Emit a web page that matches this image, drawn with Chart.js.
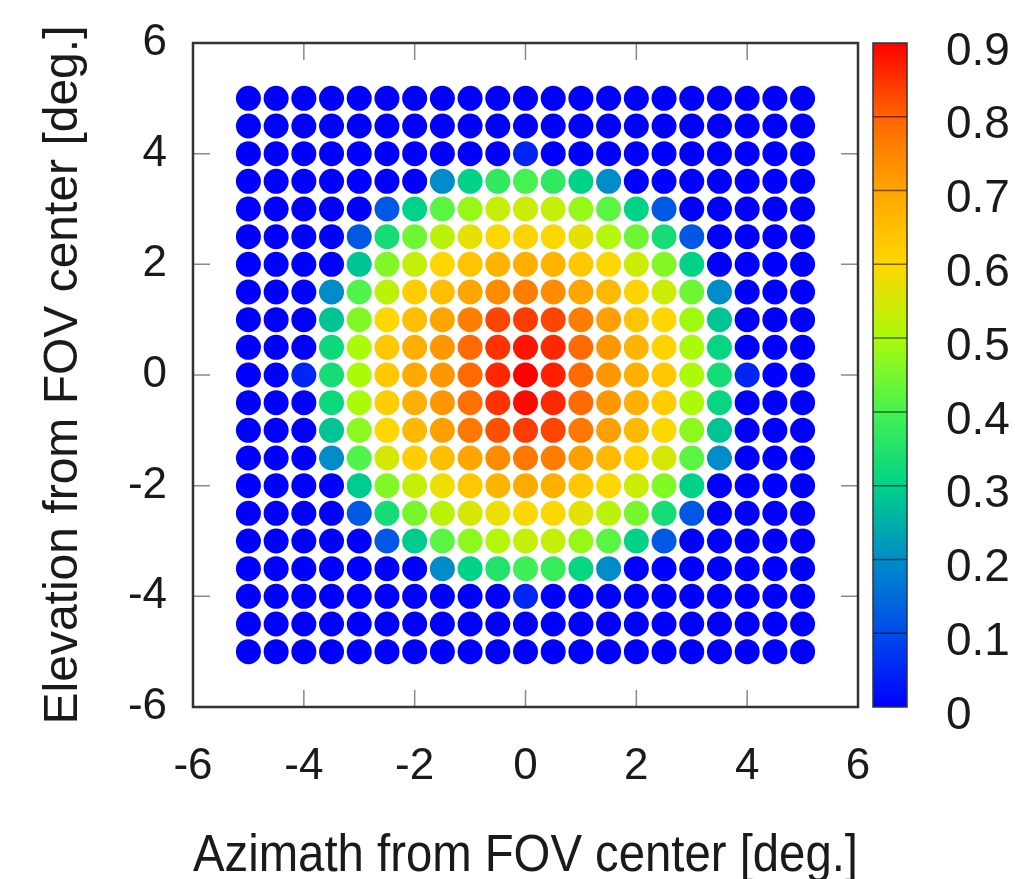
<!DOCTYPE html>
<html>
<head>
<meta charset="utf-8">
<script src="https://cdn.jsdelivr.net/npm/chart.js@4.4.0/dist/chart.umd.min.js"></script>
<style>
  html, body { margin: 0; padding: 0; background: #fff; }
  #wrap { width: 1015px; height: 879px; }
</style>
</head>
<body>
<div id="wrap"><canvas id="fov-chart"></canvas></div>
<script>
// Grid of sample directions (deg.)
const azimuth = [-5, -4.5, -4, -3.5, -3, -2.5, -2, -1.5, -1, -0.5, 0, 0.5, 1, 1.5, 2, 2.5, 3, 3.5, 4, 4.5, 5];
const elevation = [5, 4.5, 4, 3.5, 3, 2.5, 2, 1.5, 1, 0.5, 0, -0.5, -1, -1.5, -2, -2.5, -3, -3.5, -4, -4.5, -5];

// Axis / colour bar tick labels
const axisTicks = [-6, -4, -2, 0, 2, 4, 6];
const cbTicks = [0, 0.1, 0.2, 0.3, 0.4, 0.5, 0.6, 0.7, 0.8, 0.9];

// Response per grid point, one row per elevation (top row = +5 deg.)
const response = [
  [0, 0, 0, 0, 0, 0, 0, 0, 0, 0, 0, 0, 0, 0, 0, 0, 0, 0, 0, 0, 0],
  [0, 0, 0, 0, 0, 0, 0, 0, 0, 0, 0, 0, 0, 0, 0, 0, 0, 0, 0, 0, 0],
  [0, 0, 0, 0, 0, 0, 0, 0, 0, 0, 0.05, 0, 0, 0, 0, 0, 0, 0, 0, 0, 0],
  [0, 0, 0, 0, 0, 0, 0, 0.2, 0.3, 0.37, 0.4, 0.37, 0.3, 0.2, 0, 0, 0, 0, 0, 0, 0],
  [0, 0, 0, 0, 0, 0.12, 0.3, 0.42, 0.48, 0.53, 0.54, 0.53, 0.48, 0.42, 0.3, 0.12, 0, 0, 0, 0, 0],
  [0, 0, 0, 0, 0.12, 0.33, 0.44, 0.52, 0.57, 0.6, 0.61, 0.6, 0.57, 0.51, 0.44, 0.33, 0.12, 0, 0, 0, 0],
  [0, 0, 0, 0, 0.28, 0.46, 0.53, 0.6, 0.64, 0.67, 0.68, 0.67, 0.63, 0.6, 0.54, 0.46, 0.3, 0, 0, 0, 0],
  [0, 0, 0, 0.2, 0.41, 0.52, 0.62, 0.65, 0.7, 0.74, 0.76, 0.74, 0.7, 0.66, 0.61, 0.54, 0.44, 0.2, 0, 0, 0],
  [0, 0, 0, 0.28, 0.46, 0.6, 0.65, 0.7, 0.76, 0.83, 0.84, 0.83, 0.76, 0.71, 0.64, 0.6, 0.49, 0.28, 0, 0, 0],
  [0, 0, 0, 0.32, 0.5, 0.63, 0.68, 0.72, 0.79, 0.85, 0.88, 0.86, 0.79, 0.72, 0.67, 0.61, 0.5, 0.31, 0, 0, 0],
  [0, 0, 0.05, 0.33, 0.5, 0.63, 0.69, 0.72, 0.79, 0.86, 0.9, 0.87, 0.79, 0.72, 0.68, 0.63, 0.5, 0.33, 0.05, 0, 0],
  [0, 0, 0, 0.32, 0.5, 0.62, 0.68, 0.72, 0.78, 0.85, 0.89, 0.86, 0.79, 0.72, 0.68, 0.62, 0.5, 0.31, 0, 0, 0],
  [0, 0, 0, 0.28, 0.47, 0.6, 0.66, 0.71, 0.77, 0.82, 0.84, 0.83, 0.77, 0.71, 0.66, 0.6, 0.47, 0.28, 0, 0, 0],
  [0, 0, 0, 0.2, 0.41, 0.55, 0.62, 0.65, 0.7, 0.74, 0.77, 0.76, 0.71, 0.66, 0.61, 0.55, 0.42, 0.2, 0, 0, 0],
  [0, 0, 0, 0, 0.29, 0.46, 0.53, 0.58, 0.63, 0.67, 0.69, 0.68, 0.63, 0.6, 0.54, 0.46, 0.3, 0, 0, 0, 0],
  [0, 0, 0, 0, 0.12, 0.33, 0.45, 0.52, 0.55, 0.58, 0.6, 0.6, 0.57, 0.52, 0.45, 0.33, 0.12, 0, 0, 0, 0],
  [0, 0, 0, 0, 0, 0.12, 0.29, 0.42, 0.47, 0.51, 0.53, 0.53, 0.48, 0.42, 0.3, 0.12, 0, 0, 0, 0, 0],
  [0, 0, 0, 0, 0, 0, 0, 0.2, 0.3, 0.35, 0.39, 0.38, 0.31, 0.2, 0, 0, 0, 0, 0, 0, 0],
  [0, 0, 0, 0, 0, 0, 0, 0, 0, 0, 0.05, 0, 0, 0, 0, 0, 0, 0, 0, 0, 0],
  [0, 0, 0, 0, 0, 0, 0, 0, 0, 0, 0, 0, 0, 0, 0, 0, 0, 0, 0, 0, 0],
  [0, 0, 0, 0, 0, 0, 0, 0, 0, 0, 0, 0, 0, 0, 0, 0, 0, 0, 0, 0, 0]
];

const cbMax = 0.9;
const FONT = '"Liberation Sans", Arial, Helvetica, sans-serif';

// rainbow palette, gnuplot-like (value -> rgb)
const paletteStops = [
  [0.0, [0, 0, 255]],
  [0.1, [0, 75, 235]],
  [0.2, [0, 140, 200]],
  [0.3, [0, 210, 135]],
  [0.4, [70, 242, 80]],
  [0.5, [170, 250, 10]],
  [0.6, [255, 215, 0]],
  [0.7, [255, 165, 0]],
  [0.8, [255, 100, 0]],
  [0.9, [255, 0, 0]]
];

function paletteColor(v) {
  if (v <= paletteStops[0][0]) return 'rgb(' + paletteStops[0][1].join(',') + ')';
  for (let k = 1; k < paletteStops.length; k++) {
    const [v1, c1] = paletteStops[k];
    const [v0, c0] = paletteStops[k - 1];
    if (v <= v1) {
      const t = (v - v0) / (v1 - v0);
      const c = c0.map((a, n) => Math.round(a + (c1[n] - a) * t));
      return 'rgb(' + c.join(',') + ')';
    }
  }
  return 'rgb(' + paletteStops[paletteStops.length - 1][1].join(',') + ')';
}

const points = [];
const colors = [];
elevation.forEach((el, j) => {
  azimuth.forEach((az, i) => {
    points.push({ x: az, y: el, v: response[j][i] });
    colors.push(paletteColor(response[j][i]));
  });
});

// frame with inward ticks + colour bar
const framePlugin = {
  id: 'frameAndColorbar',
  afterDraw(chart) {
    const { ctx, chartArea: a, scales } = chart;
    ctx.save();

    ctx.strokeStyle = '#8a8a8a';
    ctx.lineWidth = 1.5;
    axisTicks.forEach(v => {
      const px = scales.x.getPixelForValue(v);
      const py = scales.y.getPixelForValue(v);
      ctx.beginPath();
      ctx.moveTo(px, a.bottom); ctx.lineTo(px, a.bottom - 17);
      ctx.moveTo(px, a.top); ctx.lineTo(px, a.top + 17);
      ctx.moveTo(a.left, py); ctx.lineTo(a.left + 17, py);
      ctx.moveTo(a.right, py); ctx.lineTo(a.right - 17, py);
      ctx.stroke();
    });

    ctx.strokeStyle = '#333';
    ctx.lineWidth = 2.5;
    ctx.strokeRect(a.left, a.top, a.right - a.left, a.bottom - a.top);

    const cb = scales.cb;
    const x0 = cb.left + 15;
    const w = 34;
    const top = cb.getPixelForValue(cbMax);
    const bottom = cb.getPixelForValue(0);
    const grad = ctx.createLinearGradient(0, bottom, 0, top);
    paletteStops.forEach(([v, c]) => grad.addColorStop(v / cbMax, 'rgb(' + c.join(',') + ')'));
    ctx.fillStyle = grad;
    ctx.fillRect(x0, top, w, bottom - top);

    ctx.strokeStyle = 'rgba(0,0,0,0.55)';
    ctx.lineWidth = 1.5;
    cbTicks.forEach(v => {
      if (v <= 0 || v >= cbMax) return;
      const py = cb.getPixelForValue(v);
      ctx.beginPath();
      ctx.moveTo(x0, py); ctx.lineTo(x0 + w, py);
      ctx.stroke();
    });
    ctx.strokeStyle = '#333';
    ctx.lineWidth = 1.5;
    ctx.strokeRect(x0, top, w, bottom - top);
    ctx.restore();
  }
};

const setTicks = list => scale => { scale.ticks = list.map(v => ({ value: v })); };

// tick marks are hidden; tickLength only reserves the gap between frame and labels
const hiddenGrid = len => ({ display: false, drawTicks: true, tickLength: len });

new Chart(document.getElementById('fov-chart').getContext('2d'), {
  type: 'scatter',
  data: {
    datasets: [{
      label: 'response',
      data: points,
      pointBackgroundColor: colors,
      pointBorderWidth: 0,
      pointRadius: 12.5,
      pointHoverRadius: 12.5
    }]
  },
  options: {
    responsive: true,
    maintainAspectRatio: false,
    animation: false,
    events: [],
    layout: { padding: { top: 43, left: 0, right: 0, bottom: 0 } },
    plugins: {
      legend: { display: false },
      tooltip: { enabled: false }
    },
    scales: {
      x: {
        type: 'linear',
        min: -6,
        max: 6,
        afterBuildTicks: setTicks(axisTicks),
        afterFit: scale => { scale.height = 172; },
        grid: hiddenGrid(33),
        border: { display: false },
        ticks: {
          color: '#1a1a1a',
          padding: 0,
          maxRotation: 0,
          font: { family: FONT, size: 44 }
        },
        title: {
          display: true,
          text: 'Azimath from FOV center [deg.]',
          color: '#1a1a1a',
          padding: { top: 0, bottom: -9 },
          font: { family: FONT, size: 51 }
        }
      },
      y: {
        type: 'linear',
        min: -6,
        max: 6,
        afterBuildTicks: setTicks(axisTicks),
        afterFit: scale => { scale.width = 193; },
        grid: hiddenGrid(26),
        border: { display: false },
        ticks: {
          color: '#1a1a1a',
          padding: 0,
          font: { family: FONT, size: 44 }
        },
        title: {
          display: true,
          text: 'Elevation from FOV center [deg.]',
          color: '#1a1a1a',
          padding: { top: 35, bottom: 0 },
          font: { family: FONT, size: 48 }
        }
      },
      cb: {
        type: 'linear',
        position: 'right',
        min: 0,
        max: cbMax,
        afterBuildTicks: setTicks(cbTicks),
        afterFit: scale => { scale.width = 157; },
        grid: hiddenGrid(88),
        border: { display: false },
        ticks: {
          color: '#1a1a1a',
          padding: 0,
          labelOffset: 9,
          font: { family: FONT, size: 46 },
          callback: v => (v === 0 ? '0' : v.toFixed(1))
        }
      }
    }
  },
  plugins: [framePlugin]
});
</script>
</body>
</html>
